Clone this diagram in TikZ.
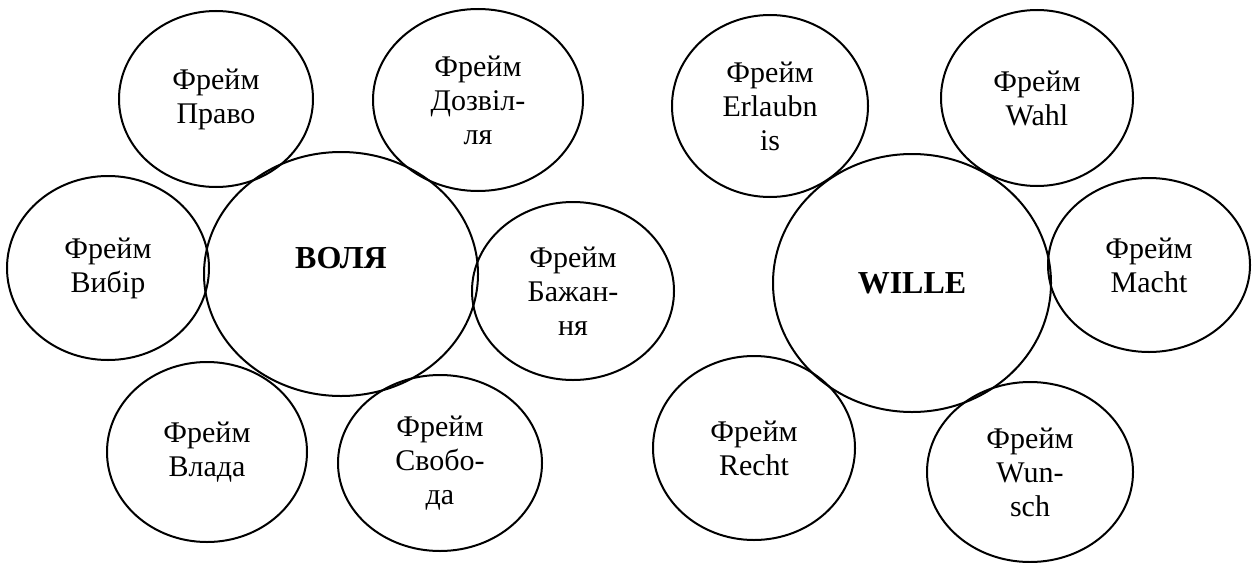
\documentclass[tikz,border=0pt]{standalone}
\usepackage{fontspec}
\setmainfont{Liberation Serif}
\usetikzlibrary{shapes.geometric}
\tikzset{
  frame/.style={draw=black, line width=2pt, ellipse, inner sep=0pt, align=center,
    font=\fontsize{30}{34}\selectfont},
  core/.style={frame, font=\fontsize{32}{34}\selectfont\bfseries},
  coretext/.style={inner sep=0pt, font=\fontsize{32}{34}\selectfont\bfseries}
}
\begin{document}
\begin{tikzpicture}[x=1pt,y=-1pt]
\useasboundingbox (0,0) rectangle (1257,562);
% left group
\node[frame, minimum width=194pt, minimum height=176pt] (pravo) at (216,99) {Фрейм\\Право};
\node[frame, minimum width=210pt, minimum height=182pt] (dozv) at (478,100) {Фрейм\\Дозвіл-\\ля};
\node[core, minimum width=274pt, minimum height=244pt] (volya) at (341,274) {};
\node[coretext] (volyaT) at (341,258) {ВОЛЯ};
\node[frame, minimum width=202pt, minimum height=184pt] (vybir) at (108,268) {Фрейм\\Вибір};
\node[frame, minimum width=202pt, minimum height=178pt] (bazh) at (573,291) {Фрейм\\Бажан-\\ня};
\node[frame, minimum width=200pt, minimum height=180pt] (vlada) at (207,452) {Фрейм\\Влада};
\node[frame, minimum width=204pt, minimum height=176pt] (svob) at (440,463) {Фрейм\\Свобо-\\да};
% right group
\node[frame, minimum width=196pt, minimum height=182pt] (erl) at (770,106) {Фрейм\\Erlaubn\\is};
\node[frame, minimum width=192pt, minimum height=176pt] (wahl) at (1037,98) {Фрейм\\Wahl};
\node[core, minimum width=278pt, minimum height=258pt] (wille) at (912,283) {WILLE};
\node[frame, minimum width=202pt, minimum height=174pt] (macht) at (1149,265) {Фрейм\\Macht};
\node[frame, minimum width=202pt, minimum height=184pt] (recht) at (754,448) {Фрейм\\Recht};
\node[frame, minimum width=206pt, minimum height=180pt] (wunsch) at (1030,472) {Фрейм\\Wun-\\sch};
\end{tikzpicture}
\end{document}
